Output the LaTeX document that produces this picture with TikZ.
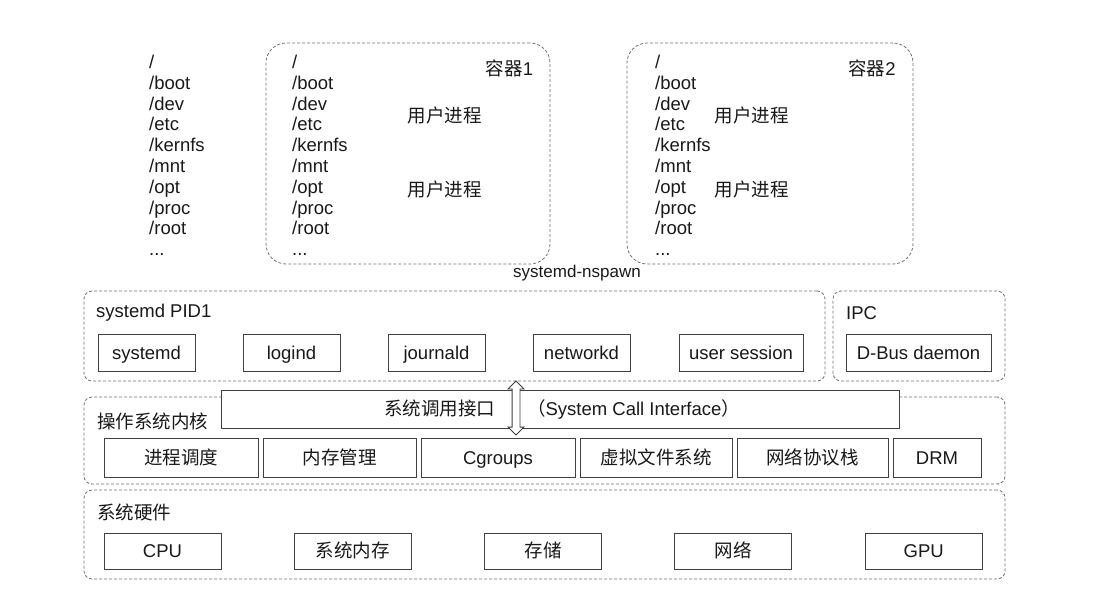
\documentclass[tikz,border=0pt]{standalone}
\usepackage{fontspec}
\setmainfont{Liberation Sans}
\newfontfamily\cjk{Noto Sans CJK SC}
\usetikzlibrary{shapes.arrows}
\begin{document}
\begin{tikzpicture}[x=1pt,y=-1pt,
  font=\fontsize{18.5}{21}\selectfont,
  txt/.style={text=black!90, inner sep=0pt},
  frame/.style={draw=black!55, dash pattern=on 3pt off 2pt, line width=0.8pt, rounded corners=8pt, inner sep=0pt},
  cont/.style={frame, rounded corners=20pt},
  box/.style={draw=black!75, line width=0.9pt, fill=white, inner sep=0pt, text=black!90,
     text height=13.2pt, text depth=0pt},
  sysarrow/.style={double arrow, draw=black!75, fill=white, line width=0.9pt, rotate=90,
     minimum height=54pt, inner sep=3.5pt, double arrow head extend=4pt}
]
\fill[white] (0,0) rectangle (1103,608);
\useasboundingbox (0,0) rectangle (1103,608);

% host file tree
\foreach \t [count=\i] in {/,/boot,/dev,/etc,/kernfs,/mnt,/opt,/proc,/root} {
  \node[txt, anchor=base west] (h\i) at (149,{68.5+20.8*(\i-1)}) {\t};
}
\node[txt, anchor=base west] (h10) at (149,{68.5+20.8*9}) {...};

% container 1
\node[cont, minimum width=284pt, minimum height=221pt] (c1) at (408,153.5) {};
\foreach \t [count=\i] in {/,/boot,/dev,/etc,/kernfs,/mnt,/opt,/proc,/root} {
  \node[txt, anchor=base west] (a\i) at (292,{68.5+20.8*(\i-1)}) {\t};
}
\node[txt, anchor=base west] (a10) at (292,{68.5+20.8*9}) {...};
\node[txt] (c1t) at (509.5,68) {{\cjk 容器}1};
\node[txt] (c1p1) at (444.5,115.5) {\cjk 用户进程};
\node[txt] (c1p2) at (444.5,189.5) {\cjk 用户进程};

% container 2
\node[cont, minimum width=286pt, minimum height=221pt] (c2) at (770,153.5) {};
\foreach \t [count=\i] in {/,/boot,/dev,/etc,/kernfs,/mnt,/opt,/proc,/root} {
  \node[txt, anchor=base west] (b\i) at (655,{68.5+20.8*(\i-1)}) {\t};
}
\node[txt, anchor=base west] (b10) at (655,{68.5+20.8*9}) {...};
\node[txt] (c2t) at (872,68) {{\cjk 容器}2};
\node[txt] (c2p1) at (751.5,115.5) {\cjk 用户进程};
\node[txt] (c2p2) at (751.5,189.5) {\cjk 用户进程};

\node[txt, font=\fontsize{17}{20}\selectfont] (nspawn) at (577,273) {systemd-nspawn};

% systemd PID1
\node[frame, minimum width=741pt, minimum height=90pt] (pid1) at (454.5,336) {};
\node[txt, anchor=west] (pid1t) at (96,313) {systemd PID1};
\node[box, minimum width=97pt, minimum height=37pt] (sd) at (146.5,352.5) {systemd};
\node[box, minimum width=97pt, minimum height=37pt] (lg) at (291.5,352.5) {logind};
\node[box, minimum width=97pt, minimum height=37pt] (jd) at (436.5,352.5) {journald};
\node[box, minimum width=97pt, minimum height=37pt] (nd) at (581.5,352.5) {networkd};
\node[box, minimum width=124pt, minimum height=37pt] (us) at (741,352.5) {user session};

% IPC
\node[frame, minimum width=172pt, minimum height=90pt] (ipc) at (919,336) {};
\node[txt, anchor=west] (ipct) at (846,313) {IPC};
\node[box, minimum width=145pt, minimum height=37pt] (dbus) at (918.5,352.5) {D-Bus daemon};

% kernel
\node[frame, minimum width=921pt, minimum height=87pt] (kern) at (544.5,440.5) {};
\node[txt, anchor=west] (kernt) at (97,421) {\cjk 操作系统内核};
\node[box, minimum width=678pt, minimum height=38pt] (sci) at (560,409)
  {\hspace{4pt}{\cjk 系统调用接口}\hspace{32pt}{\cjk （}System Call Interface{\cjk ）}};
\node[box, minimum width=154pt, minimum height=39pt] (k1) at (181,457.5) {\cjk 进程调度};
\node[box, minimum width=153pt, minimum height=39pt] (k2) at (339.5,457.5) {\cjk 内存管理};
\node[box, minimum width=154pt, minimum height=39pt] (k3) at (498,457.5) {Cgroups};
\node[box, minimum width=152pt, minimum height=39pt] (k4) at (656,457.5) {\cjk 虚拟文件系统};
\node[box, minimum width=151pt, minimum height=39pt] (k5) at (812.5,457.5) {\cjk 网络协议栈};
\node[box, minimum width=88pt, minimum height=39pt] (k6) at (937,457.5) {DRM};

% system call arrow
\node[sysarrow] (arr) at (516,408) {};

% hardware
\node[frame, minimum width=921pt, minimum height=89pt] (hw) at (544.5,534.5) {};
\node[txt, anchor=west] (hwt) at (97,512) {\cjk 系统硬件};
\node[box, minimum width=117pt, minimum height=36pt] (cpu) at (162.5,551) {CPU};
\node[box, minimum width=117pt, minimum height=36pt] (mem) at (352.8,551) {\cjk 系统内存};
\node[box, minimum width=117pt, minimum height=36pt] (sto) at (543.1,551) {\cjk 存储};
\node[box, minimum width=117pt, minimum height=36pt] (net) at (733.4,551) {\cjk 网络};
\node[box, minimum width=117pt, minimum height=36pt] (gpu) at (923.7,551) {GPU};
\end{tikzpicture}
\end{document}
